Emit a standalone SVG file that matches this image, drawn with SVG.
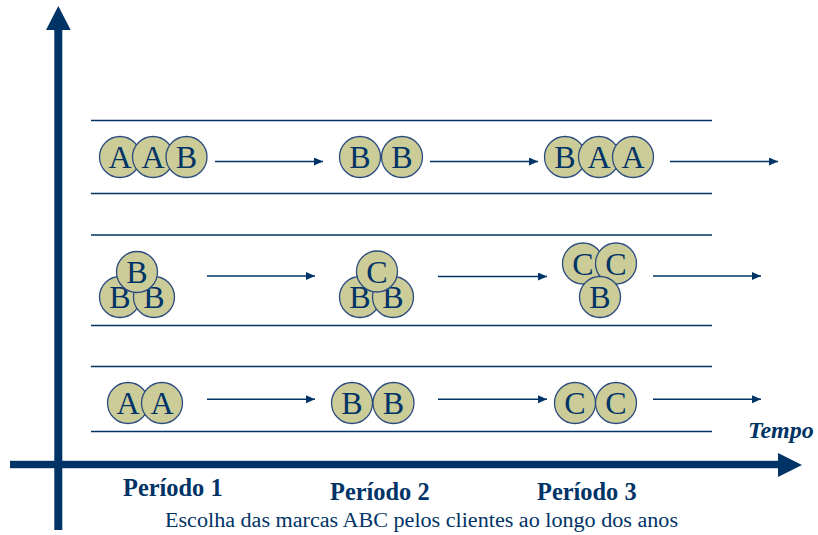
<svg xmlns="http://www.w3.org/2000/svg" width="818" height="535" viewBox="0 0 818 535">
<style>
.c{fill:#CCCC99;stroke:#2B4C7E;stroke-width:1.3}
.l{font-family:"Liberation Serif","Times New Roman","DejaVu Serif",serif;font-size:32px;fill:#003366;text-anchor:middle}
.sep{stroke:#003366;stroke-width:1.5}
.arr{stroke:#003366;stroke-width:1.6;fill:none;marker-end:url(#ah)}
.per{font-family:"Liberation Serif","Times New Roman","DejaVu Serif",serif;font-size:24.4px;font-weight:bold;fill:#003366}
</style>
<defs>
<marker id="ah" markerUnits="userSpaceOnUse" markerWidth="10" markerHeight="9" refX="9" refY="4" orient="auto">
<path d="M0,0 L9,4 L0,8 z" fill="#003366"/>
</marker>
</defs>
<rect width="818" height="535" fill="#ffffff"/>
<g id="axes" fill="#003366">
<rect x="54.3" y="28" width="8" height="502"/>
<polygon points="46,30 70.7,30 58.3,6"/>
<rect x="10" y="460.8" width="770" height="7.4"/>
<polygon points="778,453 778,477 802,465"/>
</g>
<g id="separators">
<line class="sep" x1="91" y1="120.5" x2="712" y2="120.5"/>
<line class="sep" x1="91" y1="193.5" x2="712" y2="193.5"/>
<line class="sep" x1="91" y1="235" x2="712" y2="235"/>
<line class="sep" x1="91" y1="325.5" x2="712" y2="325.5"/>
<line class="sep" x1="91" y1="366.5" x2="712" y2="366.5"/>
<line class="sep" x1="91" y1="431.5" x2="712" y2="431.5"/>
</g>
<g id="connectors">
<line class="arr" x1="215" y1="161.5" x2="323" y2="161.5"/>
<line class="arr" x1="430" y1="161.5" x2="538" y2="161.5"/>
<line class="arr" x1="670" y1="161.5" x2="778" y2="161.5"/>
<line class="arr" x1="207" y1="276" x2="315" y2="276"/>
<line class="arr" x1="438" y1="276.5" x2="547" y2="276.5"/>
<line class="arr" x1="653" y1="276" x2="761" y2="276"/>
<line class="arr" x1="207" y1="399.3" x2="315" y2="399.3"/>
<line class="arr" x1="438" y1="399.3" x2="547" y2="399.3"/>
<line class="arr" x1="653" y1="399.3" x2="761" y2="399.3"/>
</g>
<g id="r1p1">
<circle class="c" cx="120" cy="157" r="20.5"/><text class="l" x="120" y="168">A</text>
<circle class="c" cx="153" cy="157" r="20.5"/><text class="l" x="153" y="168">A</text>
<circle class="c" cx="186.5" cy="157" r="20.5"/><text class="l" x="186.5" y="168">B</text>
</g>
<g id="r1p2">
<circle class="c" cx="360" cy="157" r="20.5"/><text class="l" x="360" y="168">B</text>
<circle class="c" cx="402" cy="157" r="20.5"/><text class="l" x="402" y="168">B</text>
</g>
<g id="r1p3">
<circle class="c" cx="565" cy="157" r="20.5"/><text class="l" x="565" y="168">B</text>
<circle class="c" cx="599" cy="157" r="20.5"/><text class="l" x="599" y="168">A</text>
<circle class="c" cx="633" cy="157" r="20.5"/><text class="l" x="633" y="168">A</text>
</g>
<g id="r2p1">
<circle class="c" cx="120" cy="297" r="20.5"/><text class="l" x="120" y="308">B</text>
<circle class="c" cx="154" cy="297" r="20.5"/><text class="l" x="154" y="308">B</text>
<circle class="c" cx="137" cy="272" r="20.5"/><text class="l" x="137" y="283">B</text>
</g>
<g id="r2p2">
<circle class="c" cx="360" cy="297" r="20.5"/><text class="l" x="360" y="308">B</text>
<circle class="c" cx="393" cy="297" r="20.5"/><text class="l" x="393" y="308">B</text>
<circle class="c" cx="377" cy="271.5" r="20.5"/><text class="l" x="377" y="282.5">C</text>
</g>
<g id="r2p3">
<circle class="c" cx="583" cy="263.5" r="20.5"/><text class="l" x="583" y="274.5">C</text>
<circle class="c" cx="616" cy="263.5" r="20.5"/><text class="l" x="616" y="274.5">C</text>
<circle class="c" cx="600" cy="297" r="20.5"/><text class="l" x="600" y="308">B</text>
</g>
<g id="r3p1">
<circle class="c" cx="128" cy="403" r="20.5"/><text class="l" x="128" y="414">A</text>
<circle class="c" cx="162" cy="403" r="20.5"/><text class="l" x="162" y="414">A</text>
</g>
<g id="r3p2">
<circle class="c" cx="352" cy="403" r="20.5"/><text class="l" x="352" y="414">B</text>
<circle class="c" cx="393.5" cy="403" r="20.5"/><text class="l" x="393.5" y="414">B</text>
</g>
<g id="r3p3">
<circle class="c" cx="575" cy="403" r="20.5"/><text class="l" x="575" y="414">C</text>
<circle class="c" cx="616" cy="403" r="20.5"/><text class="l" x="616" y="414">C</text>
</g>
<g id="labels">
<text x="748" y="438" font-family="'Liberation Serif','Times New Roman','DejaVu Serif',serif" font-size="24" font-weight="bold" font-style="italic" fill="#003366">Tempo</text>
<text class="per" x="123" y="496">Período 1</text>
<text class="per" x="330" y="499.5">Período 2</text>
<text class="per" x="537" y="499.5">Período 3</text>
<text x="165" y="527" font-family="'Liberation Serif','Times New Roman','DejaVu Serif',serif" font-size="20" fill="#003366" textLength="513" lengthAdjust="spacingAndGlyphs">Escolha das marcas ABC pelos clientes ao longo dos anos</text>
</g>
</svg>
